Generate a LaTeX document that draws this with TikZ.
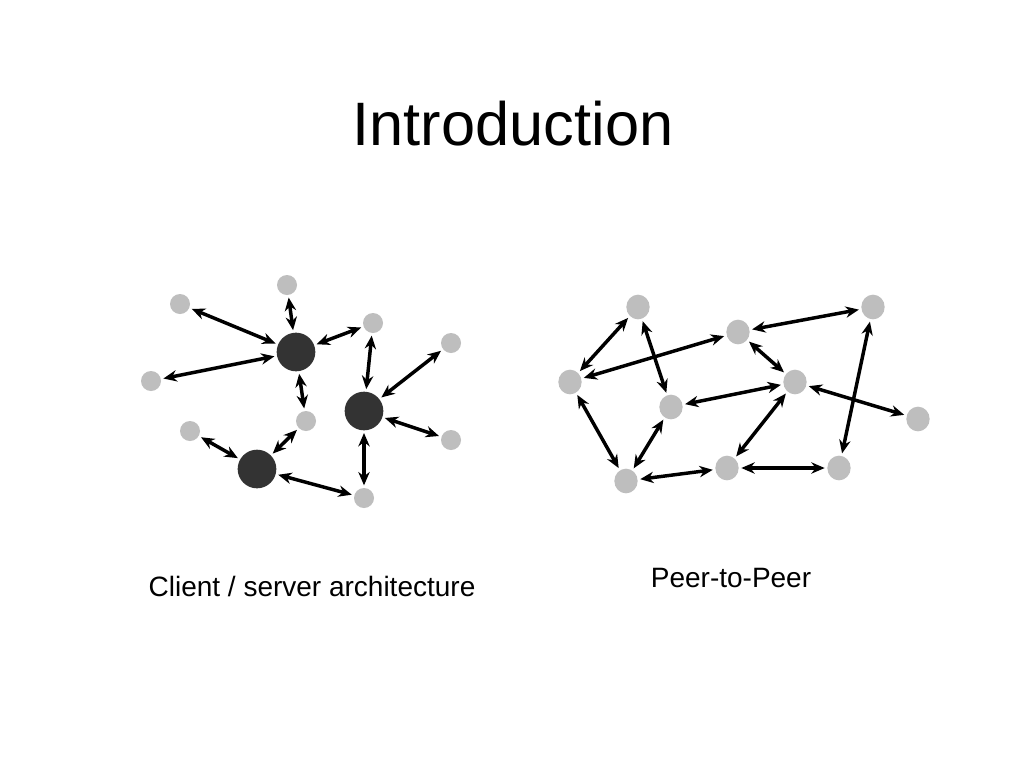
\documentclass[tikz,border=0pt]{standalone}
\usepackage{fontspec}
\setmainfont{Liberation Sans}
\usetikzlibrary{arrows.meta,shapes.geometric}
\definecolor{clientgray}{HTML}{BEBEBE}
\definecolor{servergray}{HTML}{333333}

\begin{document}
\begin{tikzpicture}[x=0.75pt,y=-0.75pt,
		client/.style={circle,fill=clientgray,minimum size=15pt,inner sep=0pt,outer sep=2pt},
		server/.style={circle,fill=servergray,minimum size=29pt,inner sep=0pt,outer sep=2pt},
		peer/.style={ellipse,fill=clientgray,minimum width=17.5pt,minimum height=18.5pt,inner sep=0pt,outer sep=2pt},
		link/.style={line width=2.6pt,{Stealth[length=10pt,width=8.5pt]}-{Stealth[length=10pt,width=8.5pt]}},
		caption/.style={anchor=base,font=\fontsize{21}{25}\selectfont}]
		\fill[white] (0,0) rectangle (1024,768);
		\useasboundingbox (0,0) rectangle (1024,768);
		\node[anchor=base,font=\fontsize{46}{55}\selectfont] (title) at (513,145) {Introduction};
		% client / server
		\foreach \n/\x/\y in {s1/296/352,s2/364/411,s3/257/469}
		\node[server] (\n) at (\x,\y) {};
		\foreach \n/\x/\y in {c1/287/285,c2/180/304,c3/373/323,c4/451/343,c5/151/381,c6/306/421,c7/190/431,c8/451/440,c9/364/498}
		\node[client] (\n) at (\x,\y) {};
		\foreach \a/\b in {c1/s1,c2/s1,c5/s1,c3/s1,s1/c6,c6/s3,c7/s3,s3/c9,c3/s2,c4/s2,c8/s2,s2/c9}
		\draw[link] (\a) -- (\b);
		\node[caption] (cslabel) at (312,596) {Client / server architecture};
		% peer-to-peer
		\foreach \n/\x/\y in {p1/638/307,p2/738/332,p3/873/307,p4/570/382,p5/671/407,p6/795/382,p7/918/419,p8/626/481,p9/727/468,p10/839/468}
		\node[peer] (\n) at (\x,\y) {};
		\foreach \a/\b in {p1/p4,p1/p5,p4/p2,p2/p3,p2/p6,p5/p6,p6/p7,p6/p9,p3/p10,p4/p8,p8/p5,p8/p9,p9/p10}
		\draw[link] (\a) -- (\b);
		\node[caption] (p2plabel) at (731,587) {Peer-to-Peer};
	\end{tikzpicture}
\end{document}
